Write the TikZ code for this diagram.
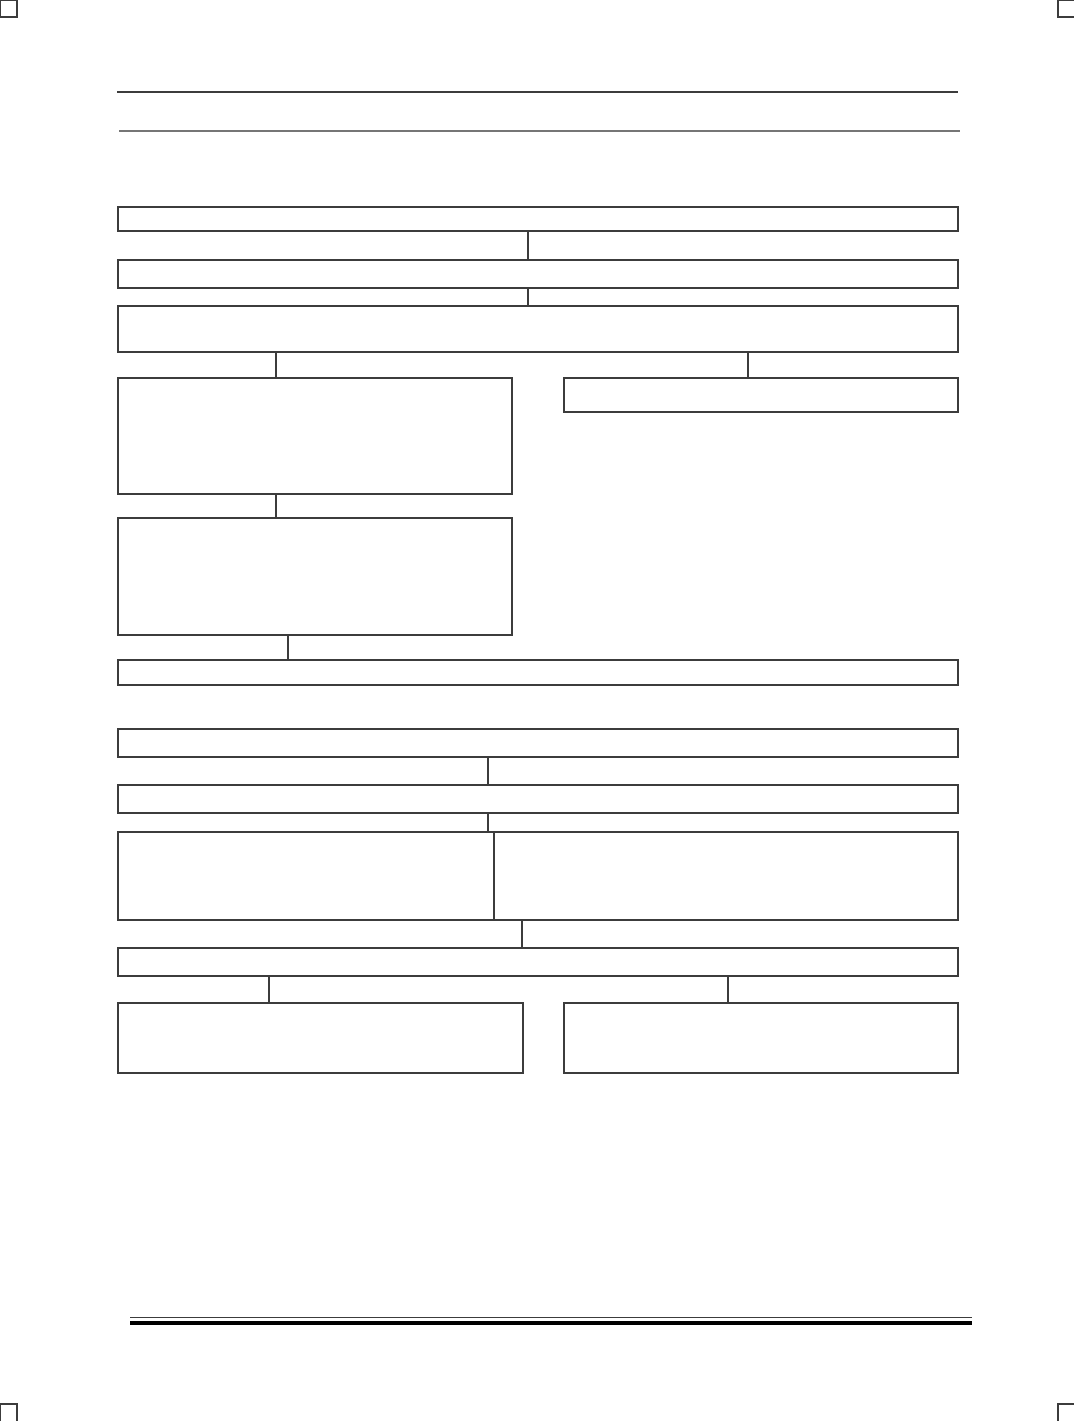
\documentclass[tikz,border=0pt]{standalone}
\usepackage{xcolor}
\definecolor{Frame}{RGB}{60,60,60}
\definecolor{Black}{RGB}{0,0,0}
\usepackage{tikz}
\usetikzlibrary{positioning}

\tikzset{
	boxnode/.style 2 args={draw=Frame, line width=0.8pt, anchor=north west, inner sep=0pt, outer sep=0pt,
		minimum width=#1*0.75pt, minimum height=#2*0.75pt},
	flow/.style={draw=Frame, line width=0.8pt},
	rule/.style={draw=Frame, line width=0.8pt}
}

\begin{document}
\begin{tikzpicture}[x=0.75pt, y=-0.75pt]

		\useasboundingbox (0,0) rectangle (1074,1421);

		% Corner marks
		\draw [rule] (0.5,0.5) rectangle (17,17);
		\draw [rule] (1075,0.5) -| (1058,17) -- (1075,17);
		\draw [rule] (0.5,1422) |- (17,1404) -- (17,1422);
		\draw [rule] (1058,1422) |- (1075,1404);

		% Header rules
		\draw [rule] (117,92) -- (958,92);
		\draw [rule, draw=Frame!70] (119,131) -- (960,131);

		% Rectangle (upper chart)
		\node[boxnode={840}{24}]  (b1)  at (118,207)  {};
		\node[boxnode={840}{28}]  (b2)  at (118,260)  {};
		\node[boxnode={840}{46}]  (b3)  at (118,306)  {};
		\node[boxnode={394}{116}] (b4)  at (118,378)  {};
		\node[boxnode={394}{34}]  (b5)  at (564,378)  {};
		\node[boxnode={394}{117}] (b6)  at (118,518)  {};
		\node[boxnode={840}{25}]  (b7)  at (118,660)  {};

		% Rectangle (lower chart)
		\node[boxnode={840}{28}]  (b8)  at (118,729)  {};
		\node[boxnode={840}{28}]  (b9)  at (118,785)  {};
		\node[boxnode={376}{88}]  (b10) at (118,832)  {};
		\node[boxnode={464}{88}]  (b11) at (494,832)  {};
		\node[boxnode={840}{28}]  (b12) at (118,948)  {};
		\node[boxnode={405}{70}]  (b13) at (118,1003) {};
		\node[boxnode={394}{70}]  (b14) at (564,1003) {};

		% Flows
		\coordinate (k12)  at (528,0);
		\coordinate (k34)  at (276,0);
		\coordinate (k35)  at (748,0);
		\coordinate (k67)  at (288,0);
		\coordinate (k89)  at (488,0);
		\coordinate (k1112) at (522,0);
		\coordinate (k1213) at (269,0);
		\coordinate (k1214) at (728,0);

		\draw [flow] (b1.south -| k12)   -- (b2.north -| k12);
		\draw [flow] (b2.south -| k12)   -- (b3.north -| k12);
		\draw [flow] (b3.south -| k34)   -- (b4.north -| k34);
		\draw [flow] (b3.south -| k35)   -- (b5.north -| k35);
		\draw [flow] (b4.south -| k34)   -- (b6.north -| k34);
		\draw [flow] (b6.south -| k67)   -- (b7.north -| k67);

		\draw [flow] (b8.south -| k89)   -- (b9.north -| k89);
		\draw [flow] (b9.south -| k89)   -- (b10.north -| k89);
		\draw [flow] (b11.south -| k1112) -- (b12.north -| k1112);
		\draw [flow] (b12.south -| k1213) -- (b13.north -| k1213);
		\draw [flow] (b12.south -| k1214) -- (b14.north -| k1214);

		% Footer rules
		\draw [rule, line width=0.75pt] (130,1317) -- (972,1317);
		\draw [draw=Black, line width=3pt] (130,1323) -- (972,1323);

	\end{tikzpicture}
\end{document}
